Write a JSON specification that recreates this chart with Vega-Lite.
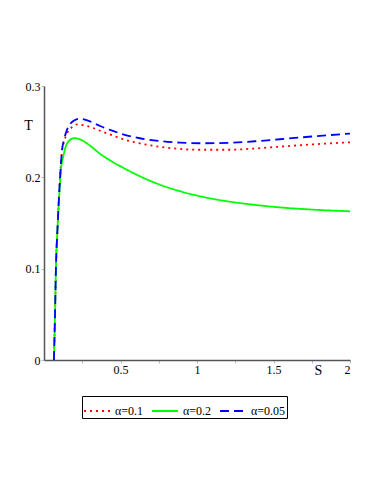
{
  "$schema": "https://vega.github.io/schema/vega-lite/v6.json",
  "autosize": "none",
  "width": 306,
  "height": 274,
  "padding": {"left": 44, "top": 86, "right": 32, "bottom": 134},
  "background": "white",
  "config": {
    "view": {"stroke": null},
    "font": "Liberation Serif",
    "axis": {"labelFont": "Liberation Serif", "titleFont": "Liberation Serif"},
    "legend": {"labelFont": "Liberation Serif"}
  },
  "data": {
    "values": [
      {"S": 0.065, "T": 0.0, "c": "α=0.1"},
      {"S": 0.072, "T": 0.05, "c": "α=0.1"},
      {"S": 0.078, "T": 0.1, "c": "α=0.1"},
      {"S": 0.09, "T": 0.15, "c": "α=0.1"},
      {"S": 0.105, "T": 0.2, "c": "α=0.1"},
      {"S": 0.118, "T": 0.229, "c": "α=0.1"},
      {"S": 0.131, "T": 0.239, "c": "α=0.1"},
      {"S": 0.15, "T": 0.248, "c": "α=0.1"},
      {"S": 0.18, "T": 0.2545, "c": "α=0.1"},
      {"S": 0.218, "T": 0.258, "c": "α=0.1"},
      {"S": 0.26, "T": 0.257, "c": "α=0.1"},
      {"S": 0.3, "T": 0.2552, "c": "α=0.1"},
      {"S": 0.366, "T": 0.251, "c": "α=0.1"},
      {"S": 0.45, "T": 0.2458, "c": "α=0.1"},
      {"S": 0.523, "T": 0.2415, "c": "α=0.1"},
      {"S": 0.627, "T": 0.2372, "c": "α=0.1"},
      {"S": 0.75, "T": 0.2336, "c": "α=0.1"},
      {"S": 0.889, "T": 0.2311, "c": "α=0.1"},
      {"S": 1.0, "T": 0.2302, "c": "α=0.1"},
      {"S": 1.216, "T": 0.2302, "c": "α=0.1"},
      {"S": 1.38, "T": 0.2316, "c": "α=0.1"},
      {"S": 1.542, "T": 0.2336, "c": "α=0.1"},
      {"S": 1.75, "T": 0.236, "c": "α=0.1"},
      {"S": 2.0, "T": 0.2384, "c": "α=0.1"},

      {"S": 0.065, "T": 0.0, "c": "α=0.2"},
      {"S": 0.072, "T": 0.05, "c": "α=0.2"},
      {"S": 0.078, "T": 0.1, "c": "α=0.2"},
      {"S": 0.09, "T": 0.15, "c": "α=0.2"},
      {"S": 0.103, "T": 0.19, "c": "α=0.2"},
      {"S": 0.112, "T": 0.21, "c": "α=0.2"},
      {"S": 0.126, "T": 0.223, "c": "α=0.2"},
      {"S": 0.142, "T": 0.2335, "c": "α=0.2"},
      {"S": 0.165, "T": 0.2402, "c": "α=0.2"},
      {"S": 0.2, "T": 0.243, "c": "α=0.2"},
      {"S": 0.24, "T": 0.2412, "c": "α=0.2"},
      {"S": 0.3, "T": 0.2348, "c": "α=0.2"},
      {"S": 0.366, "T": 0.2258, "c": "α=0.2"},
      {"S": 0.45, "T": 0.2168, "c": "α=0.2"},
      {"S": 0.523, "T": 0.2100, "c": "α=0.2"},
      {"S": 0.627, "T": 0.2012, "c": "α=0.2"},
      {"S": 0.75, "T": 0.1924, "c": "α=0.2"},
      {"S": 0.889, "T": 0.1848, "c": "α=0.2"},
      {"S": 1.05, "T": 0.1782, "c": "α=0.2"},
      {"S": 1.216, "T": 0.1733, "c": "α=0.2"},
      {"S": 1.38, "T": 0.1698, "c": "α=0.2"},
      {"S": 1.542, "T": 0.1671, "c": "α=0.2"},
      {"S": 1.75, "T": 0.1647, "c": "α=0.2"},
      {"S": 2.0, "T": 0.1628, "c": "α=0.2"},

      {"S": 0.065, "T": 0.0, "c": "α=0.05"},
      {"S": 0.072, "T": 0.05, "c": "α=0.05"},
      {"S": 0.078, "T": 0.1, "c": "α=0.05"},
      {"S": 0.09, "T": 0.15, "c": "α=0.05"},
      {"S": 0.105, "T": 0.2, "c": "α=0.05"},
      {"S": 0.118, "T": 0.23, "c": "α=0.05"},
      {"S": 0.131, "T": 0.241, "c": "α=0.05"},
      {"S": 0.15, "T": 0.252, "c": "α=0.05"},
      {"S": 0.174, "T": 0.259, "c": "α=0.05"},
      {"S": 0.2, "T": 0.2625, "c": "α=0.05"},
      {"S": 0.229, "T": 0.264, "c": "α=0.05"},
      {"S": 0.26, "T": 0.2635, "c": "α=0.05"},
      {"S": 0.3, "T": 0.2612, "c": "α=0.05"},
      {"S": 0.366, "T": 0.2562, "c": "α=0.05"},
      {"S": 0.45, "T": 0.2508, "c": "α=0.05"},
      {"S": 0.523, "T": 0.2468, "c": "α=0.05"},
      {"S": 0.627, "T": 0.2428, "c": "α=0.05"},
      {"S": 0.75, "T": 0.2398, "c": "α=0.05"},
      {"S": 0.889, "T": 0.238, "c": "α=0.05"},
      {"S": 1.05, "T": 0.2373, "c": "α=0.05"},
      {"S": 1.216, "T": 0.2379, "c": "α=0.05"},
      {"S": 1.38, "T": 0.2395, "c": "α=0.05"},
      {"S": 1.542, "T": 0.2417, "c": "α=0.05"},
      {"S": 1.75, "T": 0.2447, "c": "α=0.05"},
      {"S": 2.0, "T": 0.2479, "c": "α=0.05"}
    ]
  },
  "mark": {"type": "line", "strokeWidth": 1.8, "clip": true, "interpolate": "monotone"},
  "encoding": {
    "x": {
      "field": "S", "type": "quantitative",
      "scale": {"domain": [0, 2], "nice": false, "zero": false},
      "axis": {
        "title": "S", "titleFontWeight": "normal", "titleFontSize": 14,
        "titleX": 274, "titleY": 10, "titleAnchor": "start", "titleAlign": "center", "titleBaseline": "middle",
        "values": [0.25, 0.5, 0.75, 1, 1.25, 1.5, 1.75, 2],
        "format": "~g",
        "labelExpr": "datum.value * 2 % 1 == 0 ? datum.label : ''",
        "labelFontSize": 12, "labelColor": "black",
        "labelPadding": 1, "tickSize": 3, "grid": false,
        "domainColor": "#555555", "tickColor": "#bbbbbb", "domainWidth": 1.5
      }
    },
    "y": {
      "field": "T", "type": "quantitative",
      "scale": {"domain": [0, 0.3], "nice": false},
      "axis": {
        "title": "T", "titleFontWeight": "normal", "titleFontSize": 14,
        "titleAngle": 0, "titleX": -16, "titleY": 39, "titleAlign": "center", "titleBaseline": "middle",
        "values": [0, 0.1, 0.2, 0.3],
        "format": "~g",
        "labelFontSize": 12, "labelColor": "black",
        "labelPadding": 1, "tickSize": 3, "grid": false,
        "domainColor": "#555555", "tickColor": "#bbbbbb", "domainWidth": 1.5
      }
    },
    "color": {
      "field": "c", "type": "nominal",
      "scale": {"domain": ["α=0.1", "α=0.2", "α=0.05"], "range": ["#ff0000", "#00ff00", "#0000ff"]},
      "legend": {
        "title": null, "orient": "none", "legendX": 38, "legendY": 310, "direction": "horizontal",
        "strokeColor": "black", "padding": 1, "symbolType": "stroke", "symbolSize": 676,
        "symbolStrokeWidth": 2, "labelFontSize": 12, "gridAlign": "none",
        "labelColor": "black", "columnPadding": 4, "labelOffset": 4
      }
    },
    "strokeDash": {
      "field": "c", "type": "nominal",
      "scale": {"domain": ["α=0.1", "α=0.2", "α=0.05"], "range": [[2, 4], [1, 0], [9, 5]]},
      "legend": {
        "title": null, "orient": "none", "legendX": 38, "legendY": 310, "direction": "horizontal",
        "strokeColor": "black", "padding": 1, "symbolType": "stroke", "symbolSize": 676,
        "symbolStrokeWidth": 2, "labelFontSize": 12, "gridAlign": "none",
        "labelColor": "black", "columnPadding": 4, "labelOffset": 4
      }
    }
  }
}
